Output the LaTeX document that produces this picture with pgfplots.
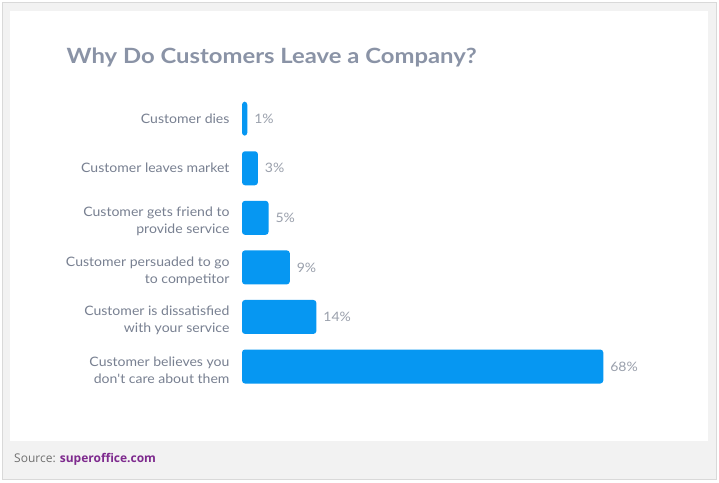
\documentclass[border=0pt]{standalone}
\usepackage{pgfplots}
\pgfplotsset{compat=1.18}
\usepackage{fontspec}
\setmainfont{Lato}
\newfontfamily\titlefont[FakeStretch=1.135]{Lato}
\newfontfamily\labelfont[FakeStretch=1.08]{Lato}
\newfontfamily\opensans{Open Sans}
\definecolor{barblue}{HTML}{0697F2}
\definecolor{titlegray}{HTML}{8A93A6}
\definecolor{labelgray}{HTML}{788091}
\definecolor{valgray}{HTML}{9AA0AC}
\definecolor{bggray}{HTML}{F2F2F2}
\definecolor{bordergray}{HTML}{D9D9D9}
\definecolor{srcgray}{HTML}{707070}
\definecolor{srcpurple}{HTML}{7E2A8E}
\begin{document}
\begin{tikzpicture}[x=1pt,y=1pt]
\useasboundingbox (0,0) rectangle (719,482);
\fill[white] (0,0) rectangle (719,482);
\draw[bordergray, fill=bggray, line width=1pt] (2.5,2.5) rectangle (716.5,479.5);
\fill[white] (10,41) rectangle (708,471);
\node[anchor=base west, inner sep=0, text=titlegray, font=\titlefont\fontsize{21}{25}\selectfont\bfseries] at (66.5,418.7) {Why Do Customers Leave a Company?};
\node[anchor=base west, inner sep=0, font=\opensans\fontsize{12}{14}\selectfont] at (14,20) {\textcolor{srcgray}{Source:} \textcolor{srcpurple}{\bfseries superoffice.com}};
\begin{axis}[
  at={(242pt,388.1pt)}, anchor=north west,
  scale only axis, width=425pt, height=297.4pt,
  xmin=0, xmax=80, ymin=-0.5, ymax=5.5,
  y dir=reverse,
  clip=false,
  axis line style={draw=none},
  major tick length=0pt,
  xtick=\empty,
  ytick={0,1},
  yticklabels={Customer dies, Customer leaves market},
  extra y ticks={2,3,4,5},
  extra y tick labels={{Customer gets friend to\\provide service}, {Customer persuaded to go\\to competitor}, {Customer is dissatisfied\\with your service}, {Customer believes you\\don't care about them}},
  extra y tick style={yticklabel style={yshift=-3.5pt}},
  yticklabel style={align=right, text=labelgray, font=\labelfont\fontsize{13}{17}\selectfont, xshift=-9pt},
  /pgf/number format/assume math mode=true,
  xbar, bar width=34pt,
  point meta=x,
  nodes near coords={\pgfmathprintnumber{\pgfplotspointmeta}\%},
  nodes near coords style={anchor=west, text=valgray, font=\labelfont\fontsize{13}{15}\selectfont, xshift=3.5pt},
]
\addplot[fill=barblue, draw=none, rounded corners=3pt] coordinates {(1,0) (3,1) (5,2) (9,3) (14,4) (68,5)};
\end{axis}
\end{tikzpicture}
\end{document}
